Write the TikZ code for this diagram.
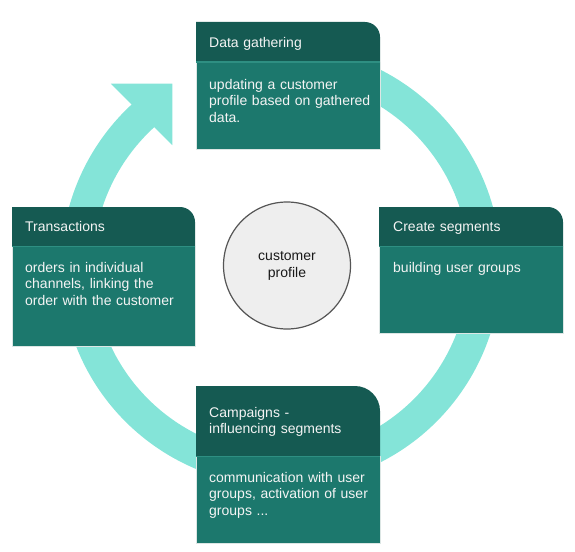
\documentclass[tikz,border=0pt]{standalone}
\usepackage{fontspec}
\setmainfont{Liberation Sans}
\definecolor{ringc}{HTML}{84E4D8}
\definecolor{headc}{HTML}{155A52}
\definecolor{bodyc}{HTML}{1C786D}
\definecolor{divc}{HTML}{2E8F82}
\definecolor{edgec}{HTML}{DCE6E4}
\definecolor{txtc}{HTML}{F4F4F4}
\definecolor{cpfill}{HTML}{EEEEEE}
\definecolor{cpline}{HTML}{555555}
\begin{document}
\begin{tikzpicture}[x=1pt,y=-1pt,
  ring/.style={draw=ringc,line width=32pt},
  ringhead/.style={fill=ringc},
  headbox/.style={fill=headc},
  bodybox/.style={fill=bodyc,draw=edgec,line width=0.6pt},
  divline/.style={draw=divc,line width=1pt},
  boxtext/.style={text=txtc,font=\fontsize{14}{16.7}\selectfont,anchor=base west,inner sep=0pt,align=left,text width=172pt},
  hub/.style={circle,draw=cpline,line width=1.2pt,fill=cpfill,minimum size=127pt,inner sep=0pt,align=center,text=black!90,font=\fontsize{14}{17}\selectfont}]
\useasboundingbox (0,0) rectangle (575,551);
% ring with arrow
\coordinate (rc) at (281,266);
\coordinate (E) at ([shift={(227.4:206)}]rc);
\draw[ring] ([shift={(-100:204)}]rc) arc[start angle=-100,end angle=228,radius=204];
\fill[ringhead] ([shift={(315:43.5)}]E) -- ([shift={(225:43.5)}]E) -- ([shift={(45:43.5)}]E) -- cycle;
% Data gathering
\fill[bodybox] (196,62) rectangle (380,149);
\fill[headbox] (196,62) -- (196,22) -- (365,22) arc[start angle=-90,end angle=0,radius=15] -- (380,62) -- cycle;
\draw[divline] (196,62) -- (380,62);
\node[boxtext] (dgh) at (209,47.3) {Data gathering};
\node[boxtext] (dgb) at (209,89) {updating a customer\\profile based on gathered\\data.};
% Transactions
\fill[bodybox] (12,246) rectangle (195,346);
\fill[headbox] (12,246) -- (12,207) -- (180,207) arc[start angle=-90,end angle=0,radius=15] -- (195,246) -- cycle;
\draw[divline] (12,246) -- (195,246);
\node[boxtext] (trh) at (25,231) {Transactions};
\node[boxtext] (trb) at (25,272) {orders in individual\\channels, linking the\\order with the customer};
% Create segments
\fill[bodybox] (379,246) rectangle (563,333);
\fill[headbox] (379,246) -- (379,207) -- (548,207) arc[start angle=-90,end angle=0,radius=15] -- (563,246) -- cycle;
\draw[divline] (379,246) -- (563,246);
\node[boxtext] (csh) at (393,231) {Create segments};
\node[boxtext] (csb) at (393,272) {building user groups};
% Campaigns
\fill[bodybox] (196,456) rectangle (380,543);
\fill[headbox] (196,456) -- (196,386) -- (355,386) arc[start angle=-90,end angle=0,radius=25] -- (380,456) -- cycle;
\draw[divline] (196,456) -- (380,456);
\node[boxtext] (cah) at (209,417) {Campaigns -\\influencing segments};
\node[boxtext] (cab) at (209,482) {communication with user\\groups, activation of user\\groups ...};
% hub
\node[hub] (cp) at (287,265.5) {customer\\profile};
\end{tikzpicture}
\end{document}
